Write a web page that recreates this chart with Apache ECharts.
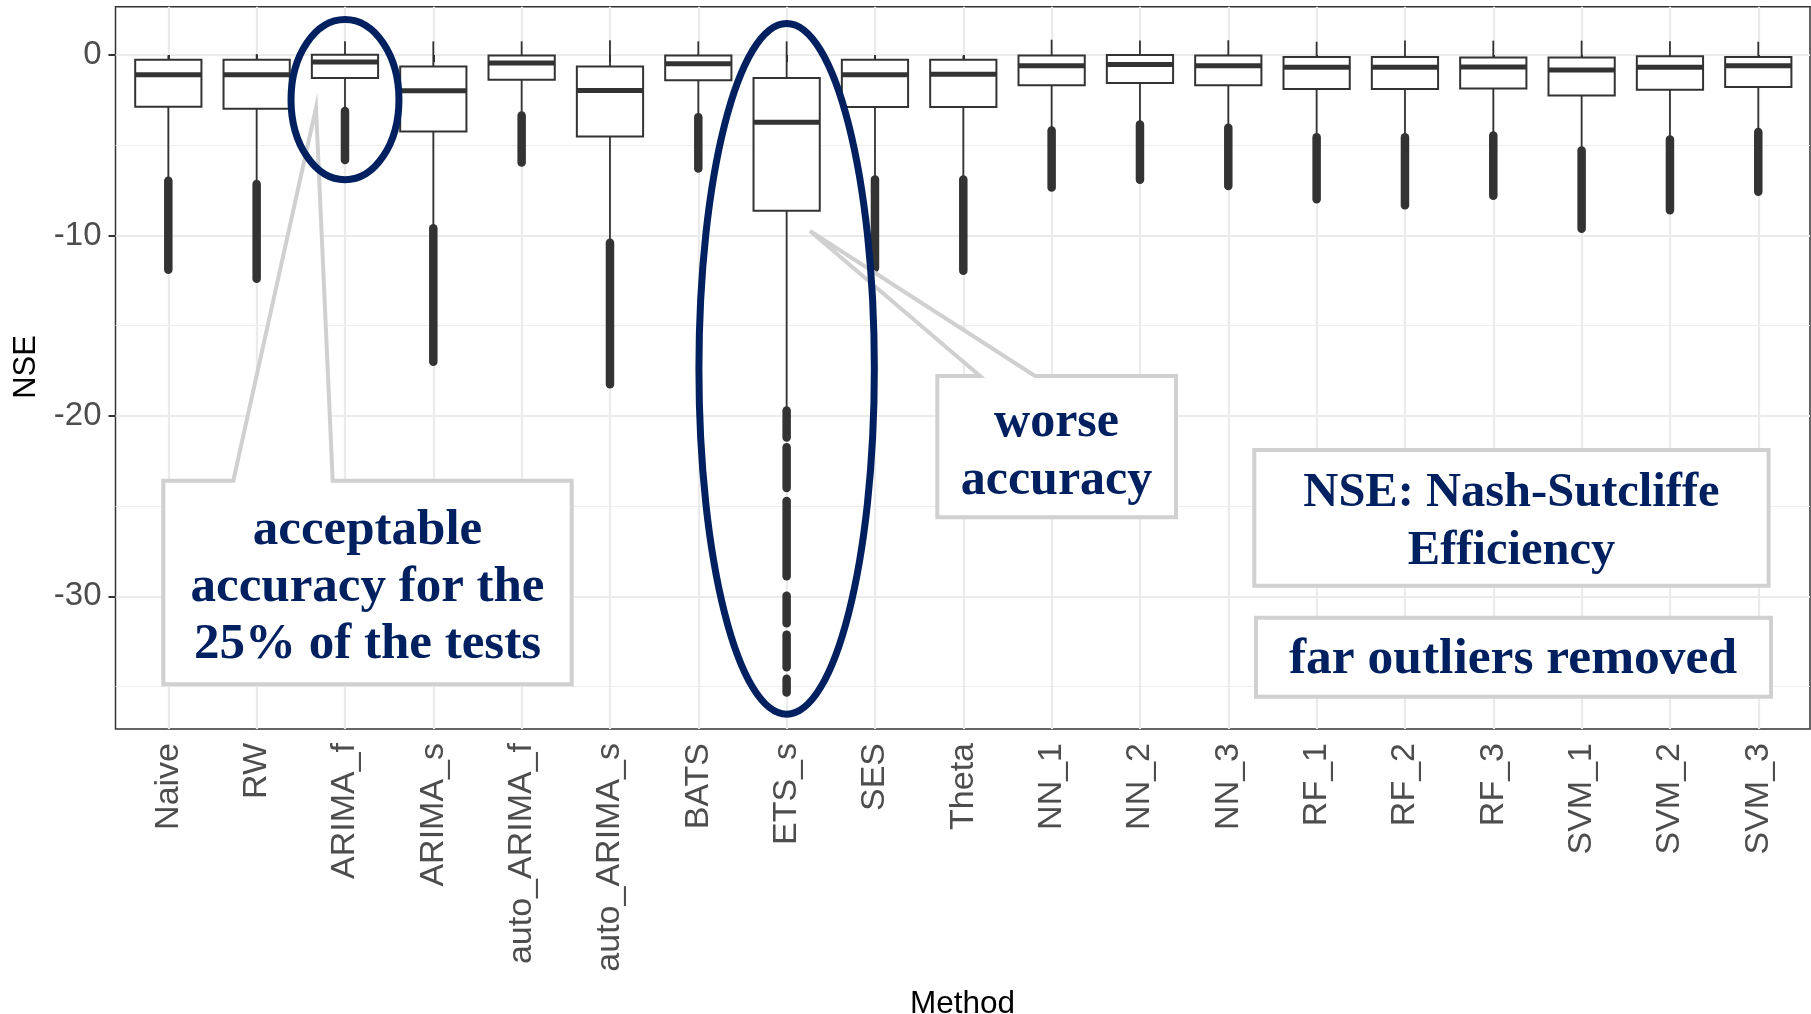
<!DOCTYPE html>
<html>
<head>
<meta charset="utf-8">
<title>NSE by method</title>
<script src="https://cdn.jsdelivr.net/npm/echarts@6/dist/echarts.min.js"></script>
<style>
  html, body { margin: 0; padding: 0; background: #fff; }
  #main { width: 1811px; height: 1014px; }
</style>
</head>
<body>
<div id="main"></div>
<script>
// values (NSE)
var methods = ['Naive', 'RW', 'ARIMA_f', 'ARIMA_s', 'auto_ARIMA_f', 'auto_ARIMA_s', 'BATS', 'ETS_s', 'SES', 'Theta',
    'NN_1', 'NN_2', 'NN_3', 'RF_1', 'RF_2', 'RF_3', 'SVM_1', 'SVM_2', 'SVM_3'];
var whiskerHigh = [-0.02, 0.06, 0.76, 0.76, 0.76, 0.82, 0.76, 0.76, -0.03, -0.03, 0.85, 0.80, 0.82, 0.74, 0.80, 0.80, 0.80, 0.76, 0.74];
var q3 = [-0.26, -0.26, 0.02, -0.63, -0.03, -0.63, -0.03, -1.27, -0.26, -0.26, -0.03, 0.0, -0.03, -0.11, -0.11, -0.13, -0.13, -0.07, -0.11];
var median = [-1.09, -1.09, -0.38, -1.98, -0.44, -1.96, -0.48, -3.73, -1.09, -1.07, -0.59, -0.53, -0.59, -0.68, -0.68, -0.66, -0.83, -0.68, -0.59];
var q1 = [-2.86, -2.97, -1.27, -4.23, -1.37, -4.51, -1.40, -8.63, -2.88, -2.88, -1.68, -1.55, -1.68, -1.88, -1.88, -1.86, -2.24, -1.92, -1.77];
var whiskerLow = [-6.8, -7.0, -2.95, -9.4, -3.2, -10.2, -3.3, -19.5, -6.75, -6.75, -4.0, -3.7, -3.9, -4.4, -4.4, -4.3, -5.1, -4.5, -4.1];

// outliers are so dense they form runs: [method, first, last]
var outlierRuns = [
    ['Naive', -6.97, -11.9], ['RW', -7.14, -12.4], ['ARIMA_f', -3.1, -5.82], ['ARIMA_s', -9.6, -17.0],
    ['auto_ARIMA_f', -3.35, -5.95], ['auto_ARIMA_s', -10.4, -18.25], ['BATS', -3.44, -6.29],
    ['ETS_s', -19.7, -21.19], ['ETS_s', -21.73, -24.0], ['ETS_s', -24.72, -28.88], ['ETS_s', -29.4, -29.4],
    ['ETS_s', -29.97, -31.49], ['ETS_s', -32.12, -33.93], ['ETS_s', -34.56, -35.33],
    ['SES', -6.9, -11.8], ['Theta', -6.9, -11.96], ['NN_1', -4.18, -7.34], ['NN_2', -3.85, -6.91],
    ['NN_3', -4.03, -7.25], ['RF_1', -4.55, -7.99], ['RF_2', -4.55, -8.32], ['RF_3', -4.46, -7.8],
    ['SVM_1', -5.29, -9.62], ['SVM_2', -4.68, -8.6], ['SVM_3', -4.27, -7.58]
];

var yMin = -37.35, yMax = 2.68;
var yMajor = [-30, -20, -10, 0];
var yMinor = [-35, -25, -15, -5];

var boxData = methods.map(function (m, i) {
    return [i, whiskerLow[i], q1[i], median[i], q3[i], whiskerHigh[i]];
});
var outlierData = outlierRuns.map(function (r) {
    return [methods.indexOf(r[0]), r[1], r[2]];
});

var ink = '#333333';
var navy = '#002060';
var calloutGrey = '#d0d0d0';

var chart = echarts.init(document.getElementById('main'));

chart.setOption({
    animation: false,
    backgroundColor: '#fff',
    textStyle: { fontFamily: 'Liberation Sans' },
    grid: [
        { left: 115.5, top: 6.7, width: 1694.5, height: 722.3, show: true, borderColor: ink, borderWidth: 1.5,
          backgroundColor: 'transparent', containLabel: false, outerBoundsMode: 'none' },
        { left: 124.15, top: 6.7, width: 1678.3, height: 722.3, containLabel: false, outerBoundsMode: 'none' }
    ],
    xAxis: [
        {
            type: 'category', gridIndex: 1, data: methods, boundaryGap: true,
            axisLine: { show: false },
            axisTick: { show: true, alignWithLabel: true, length: 7, lineStyle: { color: ink, width: 2 } },
            axisLabel: { rotate: 90, interval: 0, margin: 14, fontSize: 34, color: '#4d4d4d', fontFamily: 'Liberation Sans' },
            splitLine: { show: true, alignWithLabel: true, interval: 0, lineStyle: { color: '#ebebeb', width: 2.2 } }
        },
        { type: 'value', gridIndex: 0, min: 0, max: 1, show: false }
    ],
    yAxis: [
        {
            type: 'value', gridIndex: 0, min: yMin, max: yMax,
            axisLine: { show: false },
            axisTick: { show: true, length: 7, customValues: yMajor, lineStyle: { color: ink, width: 2 } },
            axisLabel: { customValues: yMajor, fontSize: 33, margin: 14, color: '#4d4d4d', fontFamily: 'Liberation Sans' },
            splitLine: { show: true, lineStyle: { color: '#ebebeb', width: 2.2 } }
        },
        {
            type: 'value', gridIndex: 0, min: yMin, max: yMax,
            axisLine: { show: false },
            axisTick: { show: false, customValues: yMinor },
            axisLabel: { show: false },
            splitLine: { show: true, lineStyle: { color: '#ededed', width: 1.2 } }
        },
        { type: 'value', gridIndex: 1, min: yMin, max: yMax, show: false }
    ],
    series: [
        {
            name: 'box', type: 'custom', xAxisIndex: 0, yAxisIndex: 2, z: 3,
            encode: { x: 0, y: [1, 2, 3, 4, 5] },
            data: boxData,
            renderItem: function (params, api) {
                var i = api.value(0);
                var pLow = api.coord([i, api.value(1)]);
                var pQ1 = api.coord([i, api.value(2)]);
                var pMed = api.coord([i, api.value(3)]);
                var pQ3 = api.coord([i, api.value(4)]);
                var pHigh = api.coord([i, api.value(5)]);
                var half = api.size([1, 0])[0] * 0.375;
                var x = pMed[0];
                return {
                    type: 'group',
                    children: [
                        { type: 'line', shape: { x1: x, y1: pHigh[1], x2: x, y2: pQ3[1] }, style: { stroke: ink, lineWidth: 1.8 } },
                        { type: 'line', shape: { x1: x, y1: pQ1[1], x2: x, y2: pLow[1] }, style: { stroke: ink, lineWidth: 1.8 } },
                        { type: 'rect', shape: { x: x - half, y: pQ3[1], width: half * 2, height: pQ1[1] - pQ3[1] },
                          style: { fill: '#fff', stroke: ink, lineWidth: 2 } },
                        { type: 'line', shape: { x1: x - half, y1: pMed[1], x2: x + half, y2: pMed[1] }, style: { stroke: ink, lineWidth: 5 } }
                    ]
                };
            }
        },
        {
            name: 'outliers', type: 'custom', xAxisIndex: 0, yAxisIndex: 2, z: 4,
            encode: { x: 0, y: [1, 2] },
            data: outlierData,
            renderItem: function (params, api) {
                var i = api.value(0);
                var a = api.coord([i, api.value(1)]);
                var b = api.coord([i, api.value(2)]);
                return {
                    type: 'line',
                    shape: { x1: a[0], y1: a[1], x2: b[0], y2: b[1] },
                    style: { stroke: ink, lineWidth: 8.5, lineCap: 'round' }
                };
            }
        }
    ]
});

// highlight ellipses, placed in data space: [method, centre value, half width in bands, half height in NSE units]
var ellipses = [['ARIMA_f', -2.47, 0.611, 4.44], ['ETS_s', -17.39, 0.993, 19.14]];
var graphics = [];

// axis titles
graphics.push({
    type: 'text', z: 5,
    style: { text: 'Method', x: 962.5, y: 1004, font: '31.5px "Liberation Sans"', fill: '#000', align: 'center', verticalAlign: 'middle' }
});
graphics.push({
    type: 'text', z: 5, x: 26.2, y: 367, rotation: Math.PI / 2,
    style: { text: 'NSE', x: 0, y: 0, font: '31px "Liberation Sans"', fill: '#000', align: 'center', verticalAlign: 'middle' }
});

// callout boxes (layout annotations)
graphics.push({
    type: 'polygon', z: 10,
    shape: { points: [[163.3, 480.7], [233.3, 480.7], [316, 108], [332.7, 480.7], [571.7, 480.7], [571.7, 684.3], [163.3, 684.3]] },
    style: { fill: '#fff', stroke: calloutGrey, lineWidth: 4, lineJoin: 'miter' }
});
graphics.push({
    type: 'polygon', z: 10,
    shape: { points: [[937.3, 376], [980, 376], [810, 231], [1035, 376], [1176, 376], [1176, 517.3], [937.3, 517.3]] },
    style: { fill: '#fff', stroke: calloutGrey, lineWidth: 4, lineJoin: 'miter' }
});
graphics.push({
    type: 'rect', z: 10,
    shape: { x: 1254.3, y: 450, width: 514.3, height: 135.7 },
    style: { fill: '#fff', stroke: calloutGrey, lineWidth: 4 }
});
graphics.push({
    type: 'rect', z: 10,
    shape: { x: 1256, y: 617.7, width: 515, height: 79 },
    style: { fill: '#fff', stroke: calloutGrey, lineWidth: 4 }
});

var noteFont = 'bold 50px "Liberation Serif"';
[
    ['acceptable\naccuracy for the\n25% of the tests', 367.5, 588, 57, 'bold 51px "Liberation Serif"'],
    ['worse\naccuracy', 1056.5, 452.5, 58, noteFont],
    ['NSE: Nash-Sutcliffe\nEfficiency', 1511.5, 522, 58, 'bold 48.5px "Liberation Serif"'],
    ['far outliers removed', 1513, 660, 58, 'bold 51.5px "Liberation Serif"']
].forEach(function (t) {
    graphics.push({
        type: 'text', z: 12,
        style: { text: t[0], x: t[1], y: t[2], font: t[4], fill: navy, align: 'center', verticalAlign: 'middle', lineHeight: t[3] }
    });
});

ellipses.forEach(function (e) {
    var idx = methods.indexOf(e[0]);
    var c = chart.convertToPixel({ seriesIndex: 0 }, [idx, e[1]]);
    var c1 = chart.convertToPixel({ seriesIndex: 0 }, [idx + 1, e[1] - e[3]]);
    var band = c1[0] - c[0];
    graphics.push({
        type: 'ellipse', z: 20,
        shape: { cx: c[0], cy: c[1], rx: e[2] * band, ry: c1[1] - c[1] },
        style: { fill: 'none', stroke: navy, lineWidth: 7 }
    });
});

chart.setOption({ graphic: graphics });
</script>
</body>
</html>
